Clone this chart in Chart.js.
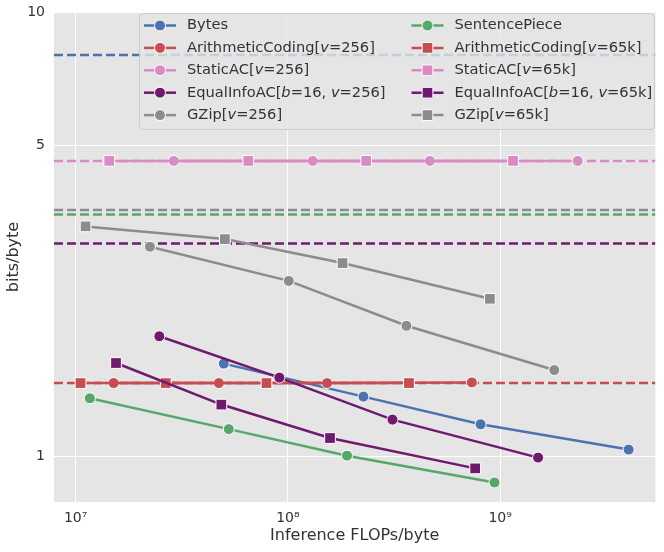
<!DOCTYPE html>
<html>
<head>
<meta charset="utf-8">
<script src="https://cdn.jsdelivr.net/npm/chart.js@4"></script>
<style>
  html, body { margin: 0; padding: 0; background: #fff; }
  #wrap { width: 664px; height: 552px; }
</style>
</head>
<body>
<div id="wrap"><canvas id="chart" width="664" height="552"></canvas></div>
<script>
// ── Data ───────────────────────────────────────────────────────────────────

const xTicks = [1e7, 1e8, 1e9];
const xTickLabels = ['10⁷', '10⁸', '10⁹'];
const yTicks = [1, 5, 10];
const yTickLabels = ['1', '5', '10'];
const xRange = [7.91e6, 5.39e9];
const yRange = [0.788, 10];

const bytesFlops = [4.99e7, 2.27e8, 8.09e8, 4.03e9];
const bytesBpb   = [1.615, 1.361, 1.179, 1.034];
const spFlops    = [1.167e7, 5.27e7, 1.90e8, 9.41e8];
const spBpb      = [1.349, 1.150, 1.002, 0.872];

const ac256Flops = [1.51e7, 4.73e7, 1.53e8, 7.36e8];
const ac256Bpb   = [1.46, 1.46, 1.46, 1.465];
const ac65kFlops = [1.055e7, 2.66e7, 7.93e7, 3.72e8];
const ac65kBpb   = [1.46, 1.46, 1.46, 1.46];

const static256Flops = [2.90e7, 1.31e8, 4.67e8, 2.32e9];
const static256Bpb   = [4.62, 4.62, 4.62, 4.62];
const static65kFlops = [1.44e7, 6.51e7, 2.34e8, 1.15e9];
const static65kBpb   = [4.62, 4.62, 4.62, 4.62];

const eq256Flops = [2.48e7, 9.12e7, 3.11e8, 1.51e9];
const eq256Bpb   = [1.861, 1.502, 1.208, 0.992];
const eq65kFlops = [1.55e7, 4.86e7, 1.58e8, 7.63e8];
const eq65kBpb   = [1.620, 1.306, 1.098, 0.938];

const gzip256Flops = [2.24e7, 1.01e8, 3.62e8, 1.80e9];
const gzip256Bpb   = [2.96, 2.48, 1.965, 1.562];
const gzip65kFlops = [1.114e7, 5.05e7, 1.81e8, 8.95e8];
const gzip65kBpb   = [3.29, 3.08, 2.72, 2.26];

// dashed reference levels (full width)
const refNames  = ['Bytes', 'StaticAC', 'GZip', 'SentencePiece', 'EqualInfoAC', 'ArithmeticCoding'];
const refLevels = [8.0, 4.62, 3.58, 3.50, 3.01, 1.46];

// ── Style ──────────────────────────────────────────────────────────────────

const C = {
  blue: '#4c72b0', red: '#c44e52', green: '#55a868',
  pink: '#da8bc3', purple: '#6e1a6e', gray: '#8c8c8c',
};
const refColors = [C.blue, C.pink, C.gray, C.green, C.purple, C.red];
const FONT = '"DejaVu Sans", sans-serif';
const INK  = '#333333';

const pts = (xs, ys) => xs.map((x, i) => ({ x, y: ys[i] }));

const series = [
  { label: 'Bytes',                     xs: bytesFlops,     ys: bytesBpb,     color: C.blue,   shape: 'circle' },
  { label: 'SentencePiece',             xs: spFlops,        ys: spBpb,        color: C.green,  shape: 'circle' },
  { label: 'ArithmeticCoding[v=256]',   xs: ac256Flops,     ys: ac256Bpb,     color: C.red,    shape: 'circle' },
  { label: 'ArithmeticCoding[v=65k]',   xs: ac65kFlops,     ys: ac65kBpb,     color: C.red,    shape: 'rect' },
  { label: 'StaticAC[v=256]',           xs: static256Flops, ys: static256Bpb, color: C.pink,   shape: 'circle' },
  { label: 'StaticAC[v=65k]',           xs: static65kFlops, ys: static65kBpb, color: C.pink,   shape: 'rect' },
  { label: 'EqualInfoAC[b=16, v=256]',  xs: eq256Flops,     ys: eq256Bpb,     color: C.purple, shape: 'circle' },
  { label: 'EqualInfoAC[b=16, v=65k]',  xs: eq65kFlops,     ys: eq65kBpb,     color: C.purple, shape: 'rect' },
  { label: 'GZip[v=256]',               xs: gzip256Flops,   ys: gzip256Bpb,   color: C.gray,   shape: 'circle' },
  { label: 'GZip[v=65k]',               xs: gzip65kFlops,   ys: gzip65kBpb,   color: C.gray,   shape: 'rect' },
];

// legend is column-major: left column v=256, right column v=65k
const legendCols = [
  ['Bytes', 'ArithmeticCoding[v=256]', 'StaticAC[v=256]', 'EqualInfoAC[b=16, v=256]', 'GZip[v=256]'],
  ['SentencePiece', 'ArithmeticCoding[v=65k]', 'StaticAC[v=65k]', 'EqualInfoAC[b=16, v=65k]', 'GZip[v=65k]'],
];

const CIRCLE_R = 5.5;
const RECT_R   = 7.6;

const refSets = refLevels.map((v, i) => ({
  label: '', data: [{ x: xRange[0], y: v }, { x: xRange[1], y: v }],
  borderColor: refColors[i], borderWidth: 2.5, borderDash: [9, 4],
  pointRadius: 0, order: 100 + i,
}));

const seriesSets = series.map((s, i) => ({
  label: s.label, data: pts(s.xs, s.ys),
  borderColor: s.color, backgroundColor: s.color, borderWidth: 2.5,
  pointStyle: s.shape, pointRadius: s.shape === 'rect' ? RECT_R : CIRCLE_R,
  pointBackgroundColor: s.color, pointBorderColor: '#ffffff', pointBorderWidth: 1,
  tension: 0, order: 50 - i,
}));

// ── Plugins ────────────────────────────────────────────────────────────────

const plotBg = {
  id: 'plotBg',
  beforeDraw(chart) {
    const { ctx, chartArea: a } = chart;
    ctx.save();
    ctx.fillStyle = '#e5e5e5';
    ctx.fillRect(a.left, a.top, a.right - a.left, a.bottom - a.top);
    ctx.restore();
  },
};

function drawMarker(ctx, shape, color, x, y) {
  ctx.fillStyle = color;
  ctx.strokeStyle = '#ffffff';
  ctx.lineWidth = 1;
  ctx.beginPath();
  if (shape === 'rect') {
    const h = RECT_R * Math.SQRT1_2;
    ctx.rect(x - h, y - h, 2 * h, 2 * h);
  } else {
    ctx.arc(x, y, CIRCLE_R, 0, Math.PI * 2);
  }
  ctx.fill();
  ctx.stroke();
}

// italic single-letter variables (v, b) like matplotlib mathtext
function drawLabel(ctx, text, x, y) {
  const parts = text.split(/([bv])(?==)/);
  let cx = x;
  parts.forEach((p, i) => {
    if (!p) return;
    const italic = i % 2 === 1;
    ctx.font = (italic ? 'italic ' : '') + '14.67px ' + FONT;
    ctx.fillText(p, cx, y);
    cx += ctx.measureText(p).width;
  });
}

const boxLegend = {
  id: 'boxLegend',
  afterDraw(chart) {
    const { ctx } = chart;
    const box = { x: 139.5, y: 13.5, w: 515, h: 116 };
    ctx.save();
    ctx.beginPath();
    ctx.roundRect(box.x, box.y, box.w, box.h, 4);
    ctx.fillStyle = 'rgba(229,229,229,0.8)';
    ctx.fill();
    ctx.strokeStyle = '#cccccc';
    ctx.lineWidth = 1;
    ctx.stroke();

    const colX = [144, 411.5];
    const row0 = 25.5, rowStep = 22.4;
    legendCols.forEach((col, c) => {
      col.forEach((name, r) => {
        const s = series.find(d => d.label === name);
        const y = row0 + r * rowStep;
        const x0 = colX[c];
        ctx.strokeStyle = s.color;
        ctx.lineWidth = 2.5;
        ctx.setLineDash([]);
        ctx.beginPath();
        ctx.moveTo(x0, y);
        ctx.lineTo(x0 + 32, y);
        ctx.stroke();
        drawMarker(ctx, s.shape, s.color, x0 + 16, y);
        ctx.fillStyle = INK;
        ctx.textBaseline = 'middle';
        ctx.textAlign = 'left';
        drawLabel(ctx, name, x0 + 43, y);
      });
    });
    ctx.restore();
  },
};

// ── Chart ──────────────────────────────────────────────────────────────────

new Chart(document.getElementById('chart'), {
  type: 'line',
  data: { datasets: [...seriesSets, ...refSets] },
  plugins: [plotBg, boxLegend],
  options: {
    responsive: false, animation: false, devicePixelRatio: 1,
    layout: { padding: { top: 12, right: 7, left: 0, bottom: 0 } },
    plugins: { legend: { display: false }, tooltip: { enabled: false } },
    scales: {
      x: {
        type: 'logarithmic', min: xRange[0], max: xRange[1],
        afterBuildTicks: sc => { sc.ticks = xTicks.map(v => ({ value: v })); },
        afterFit: sc => { sc.height = 50; sc.paddingLeft = 0; sc.paddingRight = 0; },
        ticks: {
          color: INK, font: { family: FONT, size: 14 }, padding: 8, maxRotation: 0,
          callback: v => xTickLabels[xTicks.indexOf(v)] ?? '',
        },
        grid: { color: '#ffffff', lineWidth: 1, drawTicks: false },
        border: { display: false },
        title: {
          display: true, text: 'Inference FLOPs/byte', color: INK,
          font: { family: FONT, size: 16 }, padding: { top: 0, bottom: 7 },
        },
      },
      y: {
        type: 'logarithmic', min: yRange[0], max: yRange[1],
        afterBuildTicks: sc => { sc.ticks = yTicks.map(v => ({ value: v })); },
        afterFit: sc => { sc.width = 54; sc.paddingTop = 0; sc.paddingBottom = 0; },
        ticks: {
          color: INK, font: { family: FONT, size: 14 }, padding: 9,
          callback: v => yTickLabels[yTicks.indexOf(v)] ?? '',
        },
        grid: { color: '#ffffff', lineWidth: 1, drawTicks: false },
        border: { display: false },
        title: {
          display: true, text: 'bits/byte', color: INK,
          font: { family: FONT, size: 16 }, padding: { top: 4, bottom: 0 },
        },
      },
    },
  },
});
</script>
</body>
</html>
